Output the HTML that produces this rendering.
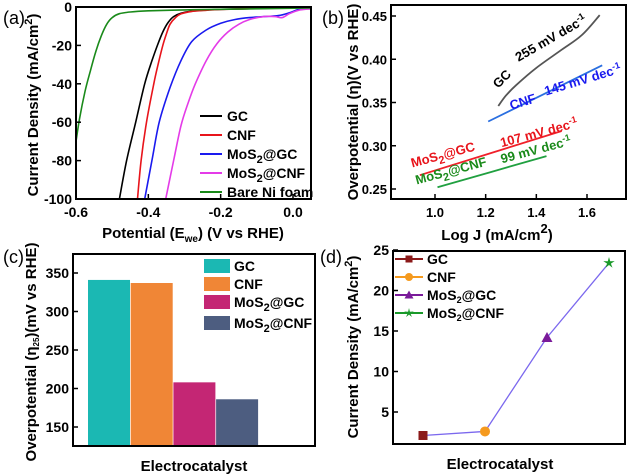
<!DOCTYPE html>
<html><head><meta charset="utf-8"><style>
html,body{margin:0;padding:0;background:#fff}
svg{display:block;font-family:"Liberation Sans",Arial,sans-serif}
.t{font-weight:bold;font-size:15px}
.tk{font-weight:bold;font-size:14px}
.tb{font-weight:bold;font-size:13px}
</style></head><body>
<svg id="s" width="627" height="476" viewBox="0 0 627 476"></svg>
<script>
// ---- Panel (a) data: LSV curves (potential V, current mA/cm2)
const aNames=["GC","CNF","MoS2@GC","MoS2@CNF","Bare Ni foam"];
const aColors=["#000","#e8141b","#1a1aef","#e43be8","#1a8a1a"];
const aGC_V=[-0.48,-0.46,-0.435,-0.41,-0.39,-0.375,-0.36,-0.345,-0.33,-0.31,-0.28,-0.24,-0.2,-0.1,0.05];
const aGC_J=[-100,-80,-60,-40,-28,-20,-13,-8,-5,-3.3,-2.2,-1.6,-1.2,-0.8,0];
const aCNF_V=[-0.43,-0.42,-0.405,-0.385,-0.372,-0.36,-0.35,-0.34,-0.325,-0.31,-0.28,-0.24,-0.2,-0.1,0.05];
const aCNF_J=[-100,-80,-60,-40,-29,-20,-14,-9,-5.5,-3.6,-2.3,-1.7,-1.3,-0.8,0];
const aMGC_V=[-0.41,-0.39,-0.37,-0.34,-0.31,-0.28,-0.24,-0.2,-0.16,-0.12,-0.08,-0.04,-0.01,0.02,0.05];
const aMGC_J=[-100,-80,-60,-42,-28,-18,-12,-8.5,-6.5,-5.5,-5,-4.5,-3,-1,-0.5];
const aMCNF_V=[-0.352,-0.33,-0.31,-0.29,-0.27,-0.24,-0.21,-0.18,-0.15,-0.12,-0.08,-0.05,-0.03,-0.01,0.02,0.05];
const aMCNF_J=[-100,-80,-62,-50,-40,-28,-19,-13,-9,-6.5,-5,-5,-5.5,-3.5,-1.5,-1];
const aNi_V=[-0.6,-0.59,-0.575,-0.56,-0.545,-0.53,-0.515,-0.5,-0.48,-0.45,-0.4,-0.3,-0.2,0.05];
const aNi_J=[-70,-58,-44,-33,-23,-15,-9,-5.5,-3.5,-2.6,-2,-1.5,-1.2,-0.5];
const aXTicks=[-0.6,-0.4,-0.2,0.0];
const aYTicks=[0,-20,-40,-60,-80,-100];
// ---- Panel (b): Tafel
const bNames=["GC","CNF","MoS2@GC","MoS2@CNF"];
const bColors=["#555","#2a6fe0","#f0202a","#20a040"];
const bGC_X=[1.25,1.28,1.32,1.4,1.5,1.58,1.65]; const bGC_Y=[0.346,0.358,0.37,0.39,0.411,0.428,0.451];
const bCNF_X=[1.21,1.66]; const bCNF_Y=[0.328,0.393];
const bMGC_X=[0.94,1.5]; const bMGC_Y=[0.266,0.317];
const bMCNF_X=[1.01,1.44]; const bMCNF_Y=[0.252,0.288];
const bXTicks=[1.0,1.2,1.4,1.6];
const bYTicks=[0.25,0.30,0.35,0.40,0.45];
// ---- Panel (c): bar chart
const cCats=["GC","CNF","MoS2@GC","MoS2@CNF"];
const cVals=[341,337,208,186];
const cColors=["#1bb8b3","#f08636","#c42674","#4d5d80"];
const cYTicks=[150,200,250,300,350];
// ---- Panel (d)
const dCats=["GC","CNF","MoS2@GC","MoS2@CNF"];
const dVals=[2.1,2.6,14.2,23.4];
const dColors=["#8b1a1a","#f59a1e","#7a1a9a","#1a9a2a"];
const dYTicks=[5,10,15,20,25];

const S=document.getElementById('s');
const NS="http://www.w3.org/2000/svg";
function el(tag,at,txt){const e=document.createElementNS(NS,tag);for(const k in at)e.setAttribute(k,at[k]);if(txt!==undefined)e.textContent=txt;S.appendChild(e);return e;}
function lin(d0,d1,r0,r1){return v=>r0+(v-d0)/(d1-d0)*(r1-r0);}
function txt(x,y,s,cls,anchor,name,extra){const e=el('text',Object.assign({x:x,y:y,class:cls,'text-anchor':anchor||'middle'},extra||{}));e.innerHTML=s;


return e;}
function box(x0,y0,x1,y1,name){const e=el('rect',{x:x0,y:y0,width:x1-x0,height:y1-y0,fill:'none',stroke:'#000','stroke-width':2});

}
function smooth(pts){let d='M'+pts[0][0].toFixed(1)+','+pts[0][1].toFixed(1);
 for(let i=0;i<pts.length-1;i++){const p0=pts[Math.max(0,i-1)],p1=pts[i],p2=pts[i+1],p3=pts[Math.min(pts.length-1,i+2)];
  const c1=[p1[0]+(p2[0]-p0[0])/6,p1[1]+(p2[1]-p0[1])/6],c2=[p2[0]-(p3[0]-p1[0])/6,p2[1]-(p3[1]-p1[1])/6];
  d+=` C${c1[0].toFixed(1)},${c1[1].toFixed(1)} ${c2[0].toFixed(1)},${c2[1].toFixed(1)} ${p2[0].toFixed(1)},${p2[1].toFixed(1)}`;}
 return d;}
function line(xs,ys,fx,fy,c,w,name){const pts=xs.map((v,i)=>[fx(v),fy(ys[i])]);const e=el('path',{d:smooth(pts),fill:'none',stroke:c,'stroke-width':w,'stroke-linejoin':'round'});

return e;}
function tick(x1,y1,x2,y2){const e=el('line',{x1:x1,y1:y1,x2:x2,y2:y2,stroke:'#000','stroke-width':1.5});

}
const sub2='<tspan dy="4" font-size="11">2</tspan><tspan dy="-4">';

// ===== Panel a
{const L=76,R=311,T=7,B=199;
const fx=lin(-0.6,0,76,293), fy=lin(0,-100,T,B);
const defs=el('defs',{});
const cl=document.createElementNS(NS,'clipPath');cl.setAttribute('id','ca');defs.appendChild(cl);
const r=document.createElementNS(NS,'rect');r.setAttribute('x',L);r.setAttribute('y',T);r.setAttribute('width',R-L);r.setAttribute('height',B-T);cl.appendChild(r);
const V=[aGC_V,aCNF_V,aMGC_V,aMCNF_V,aNi_V],J=[aGC_J,aCNF_J,aMGC_J,aMCNF_J,aNi_J];
V.forEach((v,i)=>{line(v,J[i],fx,fy,aColors[i],1.6,'lsv-curve-'+i).setAttribute('clip-path','url(#ca)');});
box(L,T,R,B,'plot-a-frame');
aXTicks.forEach(v=>{tick(fx(v),B,fx(v),B-5);txt(fx(v),217,v.toFixed(1),'tk','middle','x-tick-a');});
aYTicks.forEach(v=>{tick(L,fy(v),L+5,fy(v));txt(L-4,fy(v)+5,v,'tk','end','y-tick-a');});
txt(193,238,'Potential (E<tspan dy="4" font-size="10">we</tspan><tspan dy="-4">) (V vs RHE)</tspan>','t','middle','x-axis-title-a');
txt(0,0,'Current Density (mA/cm<tspan dy="-6" font-size="11">2</tspan><tspan dy="6">)</tspan>','t','middle','y-axis-title-a',{transform:'translate(38,105) rotate(-90)'});
txt(3,24,'(a)','',"start",'panel-label-a',{'font-size':18});
aNames.forEach((n,i)=>{const y=116+i*19;const e=el('line',{x1:200,y1:y,x2:222,y2:y,stroke:aColors[i],'stroke-width':2});


txt(227,y+5,n.replace('2',sub2)+(n.includes('2')?'</tspan>':''),'tk','start','legend-entry-a');});}

// ===== Panel b
{const L=391,R=626,T=5,B=199;
const fx=lin(1.0,1.6,435,587), fy=lin(0.25,0.45,189,16);
const X=[bGC_X,bCNF_X,bMGC_X,bMCNF_X],Y=[bGC_Y,bCNF_Y,bMGC_Y,bMCNF_Y];
X.forEach((x,i)=>line(x,Y[i],fx,fy,bColors[i],1.8,'tafel-line-'+i));
box(L,T,R,B,'plot-b-frame');
bXTicks.forEach(v=>{tick(fx(v),B,fx(v),B-5);txt(fx(v),217,v.toFixed(1),'tb','middle','x-tick-b');});
bYTicks.forEach(v=>{tick(L,fy(v),L+5,fy(v));txt(L-4,fy(v)+5,v.toFixed(2),'tb','end','y-tick-b');});
txt(497,240,'Log J (mA/cm<tspan dy="-7" font-size="13">2</tspan><tspan dy="7">)</tspan>','t','middle','x-axis-title-b',{'font-size':17});
txt(0,0,'Overpotential (η)(V vs RHE)','t','middle','y-axis-title-b',{transform:'translate(358,102) rotate(-90)','font-size':14});
txt(322,24,'(b)','','start','panel-label-b',{'font-size':18});
txt(0,0,'GC','tb','middle','label-gc',{fill:'#000',transform:'translate(505,82) rotate(-45)'});
txt(0,0,'255 mV dec<tspan dy="-5" font-size="9">-1</tspan>','tb','middle','slope-gc',{fill:'#000',transform:'translate(553,42) rotate(-30)'});
txt(0,0,'CNF','tb','middle','label-cnf',{fill:'#1a1aef',transform:'translate(524,106) rotate(-17)'});
txt(0,0,'145 mV dec<tspan dy="-5" font-size="9">-1</tspan>','tb','middle','slope-cnf',{fill:'#1a1aef',transform:'translate(584,84) rotate(-17)'});
txt(0,0,'MoS'+sub2+'@GC</tspan>','tb','middle','label-mos2gc',{fill:'#e8141b',transform:'translate(444,159) rotate(-15)'});
txt(0,0,'107 mV dec<tspan dy="-5" font-size="9">-1</tspan>','tb','middle','slope-mos2gc',{fill:'#e8141b',transform:'translate(540,137) rotate(-15)'});
txt(0,0,'MoS'+sub2+'@CNF</tspan>','tb','middle','label-mos2cnf',{fill:'#1a8a1a',transform:'translate(452,175) rotate(-15)'});
txt(0,0,'99 mV dec<tspan dy="-5" font-size="9">-1</tspan>','tb','middle','slope-mos2cnf',{fill:'#1a8a1a',transform:'translate(537,154) rotate(-15)'});}

// ===== Panel c
{const L=73,R=315,T=254,B=446;
const fy=lin(150,350,427,273);
const bw=42, x0=88;
cVals.forEach((v,i)=>{const x=x0+i*42.7;const e=el('rect',{x:x,y:fy(v),width:bw,height:B-fy(v),fill:cColors[i]});

});
box(L,T,R,B,'plot-c-frame');
cYTicks.forEach(v=>{tick(L,fy(v),L+5,fy(v));txt(L-4,fy(v)+5,v,'tk','end','y-tick-c');});
txt(194,471,'Electrocatalyst','t','middle','x-axis-title-c',{'font-size':16});
txt(0,0,'Overpotential (η<tspan dy="3" font-size="8">25</tspan><tspan dy="-3">)(mV vs RHE)</tspan>','t','middle','y-axis-title-c',{transform:'translate(36,352) rotate(-90)','font-size':14});
txt(3,263,'(c)','','start','panel-label-c',{'font-size':18});
cCats.forEach((n,i)=>{const y=259+i*18+(i==3?3:0);const e=el('rect',{x:204,y:y,width:26,height:14,fill:cColors[i]});


txt(234,y+12,n.replace('2',sub2)+(n.includes('2')?'</tspan>':''),'tk','start','legend-entry-c');});}

// ===== Panel d
{const L=393,R=625,T=251,B=444;
const fy=lin(5,25,412,250);
const fx=i=>423+i*62;
const p=dVals.map((v,i)=>fx(i)+','+fy(v)).join(' ');
const pl=el('polyline',{points:p,fill:'none',stroke:'#7b68ee','stroke-width':1.3});


function mk(i,x,y,sz){let e;
 if(i==0)e=el('rect',{x:x-sz,y:y-sz,width:2*sz,height:2*sz,fill:dColors[0]});
 else if(i==1)e=el('circle',{cx:x,cy:y,r:sz+0.5,fill:dColors[1]});
 else if(i==2)e=el('polygon',{points:`${x},${y-sz-1} ${x-sz-1},${y+sz} ${x+sz+1},${y+sz}`,fill:dColors[2]});
 else {let pts=[];for(let k=0;k<10;k++){const a=-Math.PI/2+k*Math.PI/5,rr=k%2?sz*0.45:sz+1.5;pts.push((x+rr*Math.cos(a)).toFixed(1)+','+(y+rr*Math.sin(a)).toFixed(1));}e=el('polygon',{points:pts.join(' '),fill:dColors[3]});}
 return e;}
dVals.forEach((v,i)=>{const e=mk(i,fx(i),fy(v),4.5);

});
box(L,T,R,B,'plot-d-frame');
dYTicks.forEach(v=>{tick(L,fy(v),L+5,fy(v));txt(L-4,fy(v)+5,v,'tk','end','y-tick-d');});
txt(500,469,'Electrocatalyst','t','middle','x-axis-title-d',{'font-size':16});
txt(0,0,'Current Density (mA/cm<tspan dy="-6" font-size="11">2</tspan><tspan dy="6">)</tspan>','t','middle','y-axis-title-d',{transform:'translate(358,347) rotate(-90)'});
txt(320,263,'(d)','','start','panel-label-d',{'font-size':18});
dCats.forEach((n,i)=>{const y=259+i*18;const e=el('line',{x1:395,y1:y,x2:423,y2:y,stroke:dColors[i],'stroke-width':2});


const m=mk(i,409,y,3.5);


txt(427,y+5,n.replace('2','<tspan dy="3" font-size="9">2</tspan><tspan dy="-3">')+(n.includes('2')?'</tspan>':''),'tk','start','legend-entry-d');});}
</script>
</body></html>
